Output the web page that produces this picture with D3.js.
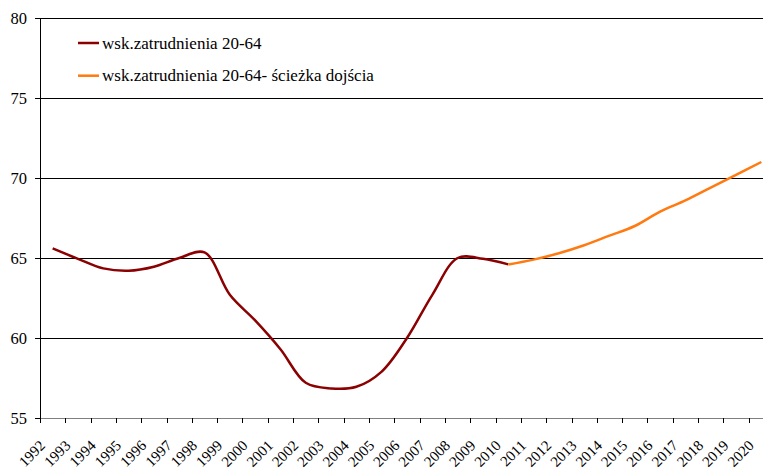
<!DOCTYPE html>
<html>
<head>
<meta charset="utf-8">
<script src="https://cdn.jsdelivr.net/npm/d3@7"></script>
<style>
    body { margin: 0; background: #fff; }
</style>
</head>
<body>
<div id="chart"></div>
<script>
    var years = d3.range(1992, 2021).map(String);
    var yTicks = [55, 60, 65, 70, 75, 80];

    // wsk.zatrudnienia 20-64 (1992-2010)
    var histYears = d3.range(1992, 2011).map(String);
    var histValues = [65.6, 64.95, 64.35, 64.2, 64.45, 65.0, 65.35, 62.7, 61.1, 59.3,
                      57.2, 56.85, 56.95, 57.9, 60.0, 62.7, 65.0, 64.95, 64.6];

    // ścieżka dojścia (2010-2020)
    var pathYears = d3.range(2010, 2021).map(String);
    var pathValues = [64.6, 64.9, 65.3, 65.8, 66.4, 67.0, 67.9, 68.6, 69.4, 70.2, 71.0];

    var seriesNames = ["wsk.zatrudnienia 20-64", "wsk.zatrudnienia 20-64- ścieżka dojścia"];
    var seriesColors = ["#8b0000", "#ff7a10"];

    var w = 763, h = 470;
    var plotLeft = 40, plotTop = 18, plotBottom = 418;
    var serif = "'Liberation Serif'";

    var svg = d3.select("#chart").append("svg")
        .attr("width", w)
        .attr("height", h);

    var x = d3.scaleBand().domain(years).range([plotLeft, 774]).padding(0);
    var y = d3.scaleLinear().domain([55, 80]).range([plotBottom, plotTop]);
    var cx = function(yr) { return x(yr) + x.bandwidth() / 2; };

    // gridlines
    svg.append("g").selectAll("line")
        .data(yTicks.filter(function(d) { return d > 55; }))
        .enter().append("line")
        .attr("x1", plotLeft).attr("x2", w)
        .attr("y1", function(d) { return y(d) + 0.5; })
        .attr("y2", function(d) { return y(d) + 0.5; })
        .attr("stroke", "#000").attr("stroke-width", 1);

    // y axis
    svg.append("line")
        .attr("x1", plotLeft + 0.5).attr("x2", plotLeft + 0.5)
        .attr("y1", plotTop).attr("y2", plotBottom + 0.5)
        .attr("stroke", "#000");
    var yt = svg.append("g").selectAll("g").data(yTicks).enter().append("g");
    yt.append("line")
        .attr("x1", plotLeft - 5).attr("x2", plotLeft)
        .attr("y1", function(d) { return y(d) + 0.5; })
        .attr("y2", function(d) { return y(d) + 0.5; })
        .attr("stroke", "#000");
    yt.append("text")
        .attr("x", 27)
        .attr("y", function(d) { return y(d) + 6; })
        .attr("text-anchor", "end")
        .style("font-family", serif)
        .style("font-size", "16.5px")
        .text(function(d) { return d; });

    // x axis
    svg.append("line")
        .attr("x1", plotLeft).attr("x2", w)
        .attr("y1", plotBottom + 0.5).attr("y2", plotBottom + 0.5)
        .attr("stroke", "#808080").attr("stroke-width", 1.2);
    svg.append("g").selectAll("line")
        .data(years)
        .enter().append("line")
        .attr("x1", function(d) { return Math.round(x(d)) + 0.5; })
        .attr("x2", function(d) { return Math.round(x(d)) + 0.5; })
        .attr("y1", plotBottom).attr("y2", plotBottom + 5)
        .attr("stroke", "#000");
    svg.append("g").selectAll("text")
        .data(years)
        .enter().append("text")
        .attr("text-anchor", "end")
        .attr("transform", function(d) {
            return "translate(" + (cx(d) - 6.5) + "," + 446.5 + ") rotate(-45)";
        })
        .style("font-family", serif)
        .style("font-size", "15px")
        .text(function(d) { return d; });

    // lines
    var line = d3.line()
        .x(function(d) { return cx(d[0]); })
        .y(function(d) { return y(d[1]); })
        .curve(d3.curveCatmullRom.alpha(0.5));

    svg.append("path")
        .datum(d3.zip(histYears, histValues))
        .attr("d", line)
        .attr("fill", "none")
        .attr("stroke", seriesColors[0])
        .attr("stroke-width", 2.5);

    svg.append("path")
        .datum(d3.zip(pathYears, pathValues))
        .attr("d", line)
        .attr("fill", "none")
        .attr("stroke", seriesColors[1])
        .attr("stroke-width", 2.5);

    // legend
    var lg = svg.append("g").selectAll("g")
        .data(seriesNames)
        .enter().append("g")
        .attr("transform", function(d, i) { return "translate(78," + (43 + i * 32.7) + ")"; });
    lg.append("line")
        .attr("x1", 0).attr("x2", 21)
        .attr("stroke", function(d, i) { return seriesColors[i]; })
        .attr("stroke-width", 2.5);
    lg.append("text")
        .attr("x", 24).attr("y", 5.5)
        .style("font-family", serif)
        .style("font-size", "17px")
        .text(function(d) { return d; });
</script>
</body>
</html>
